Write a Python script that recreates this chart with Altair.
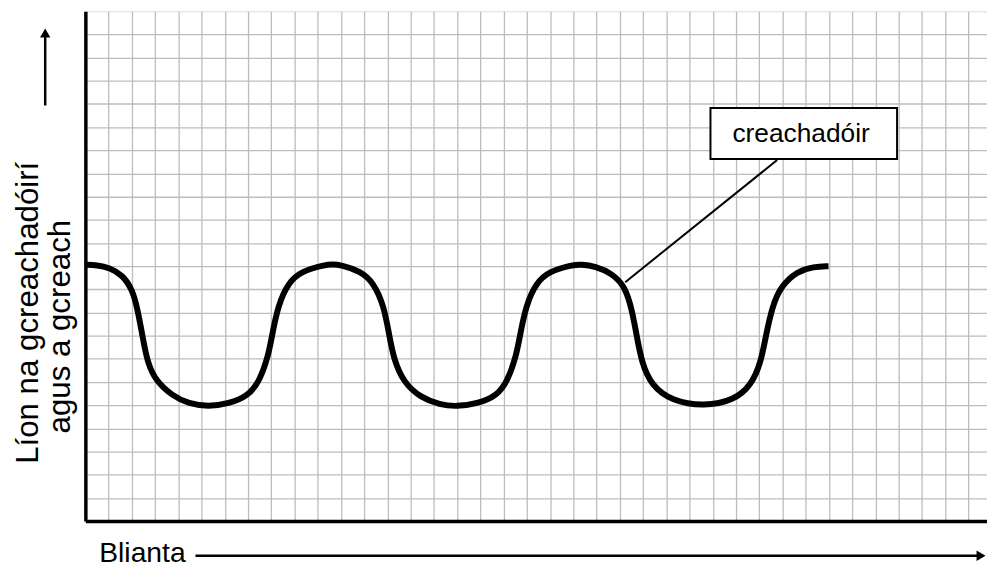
import altair as alt
import pandas as pd

# Predator curve (x: squares from the left axis, y: squares up from the bottom axis)
curve_x = [0.0, 0.5, 1.04, 1.6, 2.03, 2.25, 2.46, 2.67, 3.03, 3.74, 4.45, 5.3,
           6.16, 7.02, 7.5, 7.87, 8.03, 8.29, 8.72, 9.29, 10.29, 10.64, 10.99,
           11.85, 12.42, 12.85, 13.06, 13.27, 13.7, 14.41, 15.26, 15.97,
           16.86, 17.72, 18.17, 18.54, 18.70, 18.96, 19.39, 19.96, 20.96, 21.33,
           21.95, 22.66, 23.23, 23.52, 23.73, 23.94, 24.37, 25.22, 26.64,
           27.92, 28.64, 29.07, 29.28, 29.56, 29.92, 30.63, 31.34, 31.98]
curve_y = [11.06, 11.05, 10.93, 10.62, 9.98, 9.12, 7.98, 6.84, 6.05, 5.41, 5.06, 4.94,
           5.06, 5.41, 6.05, 7.12, 8.0, 9.3, 10.27, 10.78, 11.05, 11.08, 11.05,
           10.78, 10.27, 9.26, 8.12, 6.98, 5.98, 5.34, 5.02, 4.94,
           5.06, 5.41, 6.05, 7.12, 8.0, 9.3, 10.27, 10.78, 11.05, 11.08,
           11.0, 10.69, 10.12, 9.12, 7.98, 6.84, 5.84, 5.19, 4.94,
           5.22, 5.84, 6.84, 7.98, 9.26, 10.12, 10.78, 10.98, 11.0]

# Annotation
label_text = ["creachadóir"]
label_box_x = [26.9, 34.93]
label_box_y = [15.62, 17.83]
label_pos = [30.8, 16.68]
leader_x = [23.23, 29.77]
leader_y = [10.31, 15.58]

# Axis titles
x_title = ["Blianta"]
y_title = ["Líon na gcreachadóirí", "agus a gcreach"]

# Grid lines (one per square)
x_grid = list(range(1, 39))
y_grid = list(range(1, 22))
x_domain = [0, 38.8]
y_domain = [0, 22]

W, H = 909, 514
FONT = "Liberation Sans"

xs = alt.Scale(domain=x_domain, nice=False, zero=False)
ys = alt.Scale(domain=y_domain, nice=False, zero=False)

ax_x = alt.Axis(values=x_grid, grid=True, labels=False, ticks=False, title=None,
                domain=True, domainColor="black", domainWidth=3.5,
                gridColor="#bdbdbd", gridWidth=1.3, gridOpacity=1)
ax_y = alt.Axis(values=y_grid, grid=True, labels=False, ticks=False, title=None,
                domain=True, domainColor="black", domainWidth=3.5,
                gridColor="#bdbdbd", gridWidth=1.3, gridOpacity=1)

def X(field):
    return alt.X(field, scale=xs, axis=ax_x, title=None)

def Y(field):
    return alt.Y(field, scale=ys, axis=ax_y, title=None)

curve_df = pd.DataFrame({"x": curve_x, "y": curve_y, "o": list(range(len(curve_x)))})

curve = alt.Chart(curve_df).mark_line(
    interpolate="basis", color="black", strokeWidth=6
).encode(x=X("x:Q"), y=Y("y:Q"), order="o:Q")

leader_df = pd.DataFrame({"x": [leader_x[0]], "x2": [leader_x[1]],
                          "y": [leader_y[0]], "y2": [leader_y[1]]})
leader = alt.Chart(leader_df).mark_rule(color="black", strokeWidth=2).encode(
    x=X("x:Q"), x2="x2:Q", y=Y("y:Q"), y2="y2:Q")

box_df = pd.DataFrame({"x": [label_box_x[0]], "x2": [label_box_x[1]],
                       "y": [label_box_y[0]], "y2": [label_box_y[1]]})
box = alt.Chart(box_df).mark_rect(fill="white", stroke="black", strokeWidth=2).encode(
    x=X("x:Q"), x2="x2:Q", y=Y("y:Q"), y2="y2:Q")

lbl_df = pd.DataFrame({"x": [label_pos[0]], "y": [label_pos[1]], "t": label_text})
lbl = alt.Chart(lbl_df).mark_text(font=FONT, fontSize=26.5, color="black",
                                  align="center", baseline="middle").encode(
    x=X("x:Q"), y=Y("y:Q"), text="t:N")

# x title and arrow (below the axis)
xt_df = pd.DataFrame({"t": x_title})
xt = alt.Chart(xt_df).mark_text(font=FONT, fontSize=28.5, color="black",
                                align="left", baseline="alphabetic").encode(
    x=alt.value(14), y=alt.value(555), text="t:N")
x_arrow_line = alt.Chart(xt_df).mark_rule(color="black", strokeWidth=2.5).encode(
    x=alt.value(111), x2=alt.value(902), y=alt.value(549))
x_arrow_head = alt.Chart(xt_df).mark_point(shape="triangle-right", filled=True,
                                           color="black", opacity=1, size=110).encode(
    x=alt.value(903), y=alt.value(549))

# y title and arrow (left of the axis)
yt_df = pd.DataFrame({"t": [y_title[0]]})
yt2_df = pd.DataFrame({"t": [y_title[1]]})
yt1 = alt.Chart(yt_df).mark_text(font=FONT, fontSize=31.5, color="black", angle=270,
                                 align="center", baseline="alphabetic").encode(
    x=alt.value(-48), y=alt.value(304), text="t:N")
yt2 = alt.Chart(yt2_df).mark_text(font=FONT, fontSize=31.5, color="black", angle=270,
                                  align="center", baseline="alphabetic").encode(
    x=alt.value(-15), y=alt.value(318), text="t:N")
y_arrow_line = alt.Chart(yt_df).mark_rule(color="black", strokeWidth=2.5).encode(
    x=alt.value(-40.5), y=alt.value(95), y2=alt.value(24))
y_arrow_head = alt.Chart(yt_df).mark_point(shape="triangle-up", filled=True,
                                           color="black", opacity=1, size=110).encode(
    x=alt.value(-40.5), y=alt.value(22))

chart = alt.layer(
    curve, leader, box, lbl, xt, x_arrow_line, x_arrow_head,
    yt1, yt2, y_arrow_line, y_arrow_head
).properties(
    width=W, height=H,
    padding={"left": 78, "top": 1, "right": 0, "bottom": 44},
    autosize=alt.AutoSizeParams(type="none"),
).configure_view(stroke=None).configure(background="white")

chart.save("out.html", embed_options={"renderer": "svg", "actions": False})
